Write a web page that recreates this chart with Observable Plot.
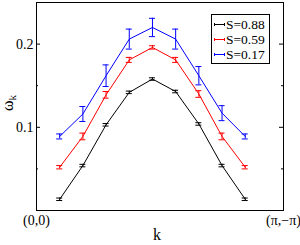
<!DOCTYPE html>
<html>
<head>
<meta charset="utf-8">
<script src="https://cdn.jsdelivr.net/npm/d3@7"></script>
<script src="https://cdn.jsdelivr.net/npm/@observablehq/plot@0.6"></script>
<style>
  html, body { margin: 0; padding: 0; background: #fff; }
  svg { font-family: "Liberation Serif", serif; }
</style>
</head>
<body>
<div id="chart"></div>
<script>
const k = [1, 2, 3, 4, 5, 6, 7, 8, 9];
const seriesNames = ["S=0.88", "S=0.59", "S=0.17"];
const seriesColors = ["#000000", "#ff0000", "#0000ff"];
const vBlack = [0.0135, 0.054, 0.103, 0.142, 0.158, 0.143, 0.104, 0.054, 0.0135];
const eBlack = [0.0015, 0.0015, 0.0015, 0.0015, 0.0015, 0.0015, 0.0015, 0.0015, 0.0015];
const vRed = [0.052, 0.089, 0.139, 0.181, 0.196, 0.181, 0.140, 0.089, 0.052];
const eRed = [0.002, 0.004, 0.004, 0.003, 0.002, 0.003, 0.004, 0.004, 0.002];
const vBlue = [0.089, 0.116, 0.162, 0.206, 0.220, 0.206, 0.162, 0.117, 0.089];
const eBlue = [0.003, 0.009, 0.013, 0.012, 0.011, 0.012, 0.011, 0.009, 0.003];
const yTicksMajor = [0.1, 0.2];
const yTicksMinor = [0.05, 0.15];
const xTickPos = [0, 10.65];
const xTickLabels = ["(0,0)", "(π,−π)"];

const values = [vBlack, vRed, vBlue];
const errors = [eBlack, eRed, eBlue];
const rows = [];
seriesNames.forEach((s, i) => {
  k.forEach((kk, j) => rows.push({series: s, k: kk, v: values[i][j], e: errors[i][j]}));
});

const cap = 0.13;
const W = 300, H = 245, mL = 36, mR = 17, mT = 2, mB = 35;
const plotW = W - mL - mR;

const plot = Plot.plot({
  width: W, height: H,
  marginLeft: mL, marginRight: mR, marginTop: mT, marginBottom: mB,
  style: {fontFamily: "Liberation Serif", background: "white"},
  x: {domain: [0, 10.65]},
  y: {domain: [0, 0.25]},
  color: {domain: seriesNames, range: seriesColors},
  marks: [
    Plot.tickY(yTicksMajor, {y: d => d, insetRight: plotW - 4, stroke: "black"}),
    Plot.tickY(yTicksMajor, {y: d => d, insetLeft: plotW - 4, stroke: "black"}),
    Plot.tickY(yTicksMinor, {y: d => d, insetRight: plotW - 2, stroke: "black"}),
    Plot.tickY(yTicksMinor, {y: d => d, insetLeft: plotW - 2, stroke: "black"}),
    Plot.axisY({ticks: yTicksMajor, tickSize: 0, tickPadding: 3, tickFormat: d3.format(".1f"), fontSize: 14, fill: "black", label: null}),
    Plot.axisX({ticks: xTickPos, tickSize: 0, tickPadding: 5, tickFormat: (d, i) => xTickLabels[i], fontSize: 14, fill: "black", label: null}),
    Plot.lineY(rows, {x: "k", y: "v", z: "series", stroke: "series", strokeWidth: 1}),
    Plot.ruleX(rows, {x: "k", y1: d => d.v - d.e, y2: d => d.v + d.e, stroke: "series", strokeWidth: 1}),
    Plot.ruleY(rows, {y: d => d.v - d.e, x1: d => d.k - cap, x2: d => d.k + cap, stroke: "series", strokeWidth: 1}),
    Plot.ruleY(rows, {y: d => d.v + d.e, x1: d => d.k - cap, x2: d => d.k + cap, stroke: "series", strokeWidth: 1}),
    Plot.frame({stroke: "black", strokeWidth: 1})
  ]
});

const svg = d3.select(plot);
// y label ω_k
const yl = svg.append("text")
  .attr("transform", "translate(13,103) rotate(-90)")
  .attr("text-anchor", "middle")
  .attr("font-size", 16)
  .attr("fill", "black");
yl.append("tspan").text("ω");
yl.append("tspan").attr("font-size", 11).attr("dy", 3).text("k");
// x label
svg.append("text")
  .attr("x", 157).attr("y", 240)
  .attr("text-anchor", "middle")
  .attr("font-size", 16)
  .attr("fill", "black")
  .text("k");
// legend
const lg = svg.append("g");
lg.append("rect").attr("x", 211.5).attr("y", 14.5).attr("width", 58).attr("height", 49)
  .attr("fill", "white").attr("stroke", "black").attr("stroke-width", 1);
seriesNames.forEach((s, i) => {
  const yy = 24.5 + i * 15;
  lg.append("line").attr("x1", 214).attr("x2", 225).attr("y1", yy).attr("y2", yy)
    .attr("stroke", seriesColors[i]).attr("stroke-width", 1);
  lg.append("line").attr("x1", 214.5).attr("x2", 214.5).attr("y1", yy - 1.5).attr("y2", yy + 1.5)
    .attr("stroke", seriesColors[i]).attr("stroke-width", 1);
  lg.append("line").attr("x1", 224.5).attr("x2", 224.5).attr("y1", yy - 1.5).attr("y2", yy + 1.5)
    .attr("stroke", seriesColors[i]).attr("stroke-width", 1);
  lg.append("text").attr("x", 226).attr("y", yy + 4.5).attr("font-size", 13.5)
    .attr("text-anchor", "start")
    .attr("fill", "black").text(s);
});

document.getElementById("chart").appendChild(plot);
</script>
</body>
</html>
